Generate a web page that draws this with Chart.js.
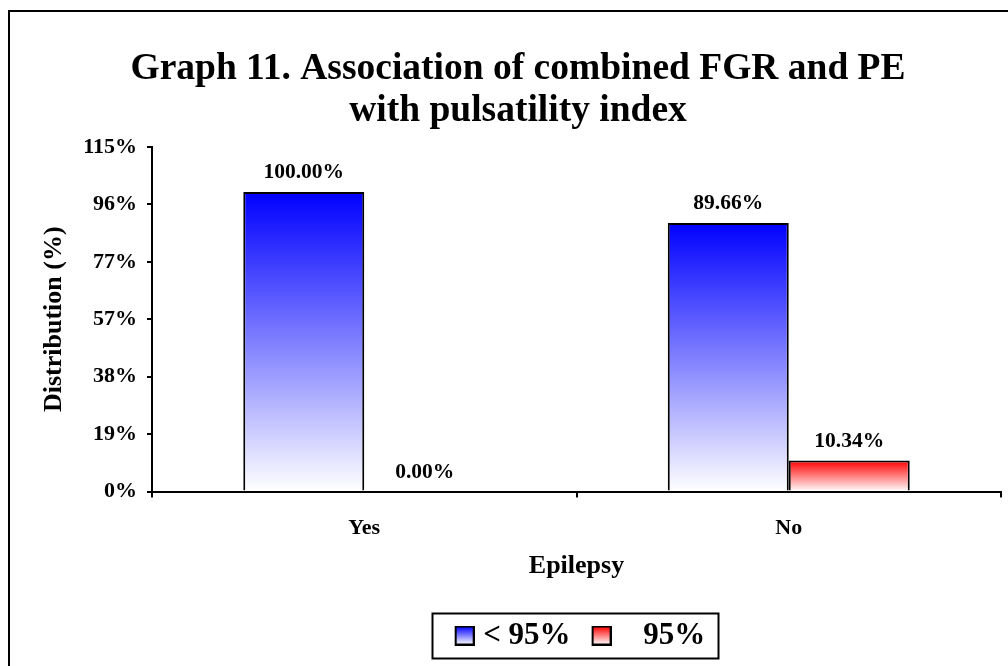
<!DOCTYPE html>
<html>
<head>
<meta charset="utf-8">
<script src="https://cdn.jsdelivr.net/npm/chart.js@4.4.0/dist/chart.umd.min.js"></script>
<style>
  html, body { margin: 0; padding: 0; background: #ffffff; }
  #wrap { width: 1008px; height: 666px; position: relative; }
</style>
</head>
<body>
<div id="wrap"><canvas id="c" width="1008" height="666"></canvas></div>
<script>
// ---- data ----
const categories = ['Yes', 'No'];
const seriesNames = ['< 95%', '   95%'];
const belowValues = [100.00, 89.66];
const aboveValues = [0.00, 10.34];
const yMax = 115;
const yTickLabels = ['0%', '19%', '38%', '57%', '77%', '96%', '115%'];
const titleLines = ['Graph 11. Association of combined FGR and PE', 'with pulsatility index'];
const xTitle = 'Epilepsy';
const yTitle = 'Distribution (%)';

const FONT = "'Liberation Serif', 'Times New Roman', serif";
const BLUE = '#0000ff';
const RED = '#ff0000';

function barGradient(ctx, color) {
  const chart = ctx.chart;
  if (!chart.chartArea || ctx.raw === undefined) return color;
  const y = chart.scales.y;
  const top = y.getPixelForValue(ctx.raw);
  const bottom = y.getPixelForValue(0);
  if (bottom - top < 1) return color;
  const g = chart.ctx.createLinearGradient(0, top, 0, bottom);
  g.addColorStop(0, color);
  g.addColorStop(1, '#ffffff');
  return g;
}

// swatch image: transparent strip on the left shifts the square toward the text
function legendSwatch(color) {
  const c = document.createElement('canvas');
  c.width = 34; c.height = 20;
  const x = c.getContext('2d');
  const g = x.createLinearGradient(0, 1, 0, 19);
  g.addColorStop(0, color);
  g.addColorStop(1, '#ffffff');
  x.fillStyle = g;
  x.fillRect(15, 1, 18, 18);
  x.strokeStyle = '#000';
  x.lineWidth = 2;
  x.strokeRect(15, 1, 18, 18);
  return c;
}

const framePlugin = {
  id: 'frame',
  beforeDraw(chart) {
    const ctx = chart.ctx;
    ctx.save();
    ctx.fillStyle = '#fff';
    ctx.fillRect(0, 0, chart.width, chart.height);
    ctx.strokeStyle = '#000';
    ctx.lineWidth = 2;
    ctx.strokeRect(9, 11, 1100, 1000);
    ctx.restore();
  },
  afterDraw(chart) {
    const lg = chart.legend;
    if (!lg || !lg.legendHitBoxes || !lg.legendHitBoxes.length) return;
    let l = Infinity, r = -Infinity, t = Infinity, b = -Infinity;
    lg.legendHitBoxes.forEach(h => {
      l = Math.min(l, h.left); r = Math.max(r, h.left + h.width);
      t = Math.min(t, h.top); b = Math.max(b, h.top + h.height);
    });
    const ctx = chart.ctx;
    ctx.save();
    ctx.strokeStyle = '#000';
    ctx.lineWidth = 2;
    ctx.strokeRect(Math.round(l - 16) + 0.5, Math.round(t - 7) + 0.5, Math.round(r - l + 28), Math.round(b - t + 14));
    ctx.restore();
  }
};

const valueLabelPlugin = {
  id: 'valueLabels',
  afterDatasetsDraw(chart) {
    const ctx = chart.ctx;
    ctx.save();
    ctx.font = "bold 21.5px " + FONT;
    ctx.fillStyle = '#000';
    ctx.textAlign = 'center';
    ctx.textBaseline = 'alphabetic';
    chart.data.datasets.forEach((ds, di) => {
      const meta = chart.getDatasetMeta(di);
      meta.data.forEach((el, i) => {
        ctx.fillText(ds.data[i].toFixed(2) + '%', el.x, el.y - 14);
      });
    });
    ctx.restore();
  }
};

new Chart(document.getElementById('c'), {
  type: 'bar',
  data: {
    labels: categories,
    datasets: [
      {
        label: seriesNames[0],
        data: belowValues,
        backgroundColor: (ctx) => barGradient(ctx, BLUE),
        borderColor: '#000',
        borderWidth: 2,
        borderSkipped: 'bottom',
        categoryPercentage: 0.57,
        barPercentage: 1.0
      },
      {
        label: seriesNames[1],
        data: aboveValues,
        backgroundColor: (ctx) => barGradient(ctx, RED),
        borderColor: '#000',
        borderWidth: 2,
        borderSkipped: 'bottom',
        categoryPercentage: 0.57,
        barPercentage: 1.0
      }
    ]
  },
  options: {
    responsive: false,
    animation: false,
    devicePixelRatio: 1,
    layout: { padding: { top: 44, left: 35, right: 7, bottom: 5 } },
    plugins: {
      title: {
        display: true,
        text: titleLines,
        color: '#000',
        font: { family: FONT, size: 37.5, weight: 'bold', lineHeight: 1.12 },
        padding: { top: 4, bottom: 15 }
      },
      legend: {
        display: true,
        position: 'bottom',
        fullSize: false,
        labels: {
          color: '#000',
          font: { family: FONT, size: 31, weight: 'bold' },
          usePointStyle: true,
          boxWidth: 20,
          boxHeight: 20,
          padding: 14,
          generateLabels: (chart) => [
            { text: seriesNames[0], pointStyle: legendSwatch(BLUE), fillStyle: BLUE, strokeStyle: '#000', lineWidth: 0, hidden: false, datasetIndex: 0 },
            { text: seriesNames[1], pointStyle: legendSwatch(RED), fillStyle: RED, strokeStyle: '#000', lineWidth: 0, hidden: false, datasetIndex: 1 }
          ]
        }
      },
      tooltip: { enabled: false }
    },
    scales: {
      x: {
        afterFit: (s) => { s.height = 114.5; },
        grid: { display: true, drawOnChartArea: false, drawTicks: true, tickLength: 6, color: '#000', lineWidth: 2, offset: true },
        border: { display: true, color: '#000', width: 2 },
        ticks: { color: '#000', font: { family: FONT, size: 22, weight: 'bold' }, padding: 18, maxRotation: 0 },
        title: { display: true, text: xTitle, color: '#000', font: { family: FONT, size: 26, weight: 'bold' }, padding: { top: 0, bottom: 24 } }
      },
      y: {
        min: 0,
        max: yMax,
        afterFit: (s) => { s.width = 117; },
        afterBuildTicks: (s) => {
          s.ticks = yTickLabels.map((_, i) => ({ value: i * yMax / (yTickLabels.length - 1) }));
        },
        grid: { display: true, drawOnChartArea: false, drawTicks: true, tickLength: 5, color: '#000', lineWidth: 2 },
        border: { display: true, color: '#000', width: 2 },
        ticks: {
          color: '#000',
          font: { family: FONT, size: 22, weight: 'bold' },
          padding: 10,
          callback: (v, i) => yTickLabels[i]
        },
        title: { display: true, text: yTitle, color: '#000', font: { family: FONT, size: 26, weight: 'bold' }, padding: { top: 4, bottom: 4 } }
      }
    }
  },
  plugins: [framePlugin, valueLabelPlugin]
});
</script>
</body>
</html>
